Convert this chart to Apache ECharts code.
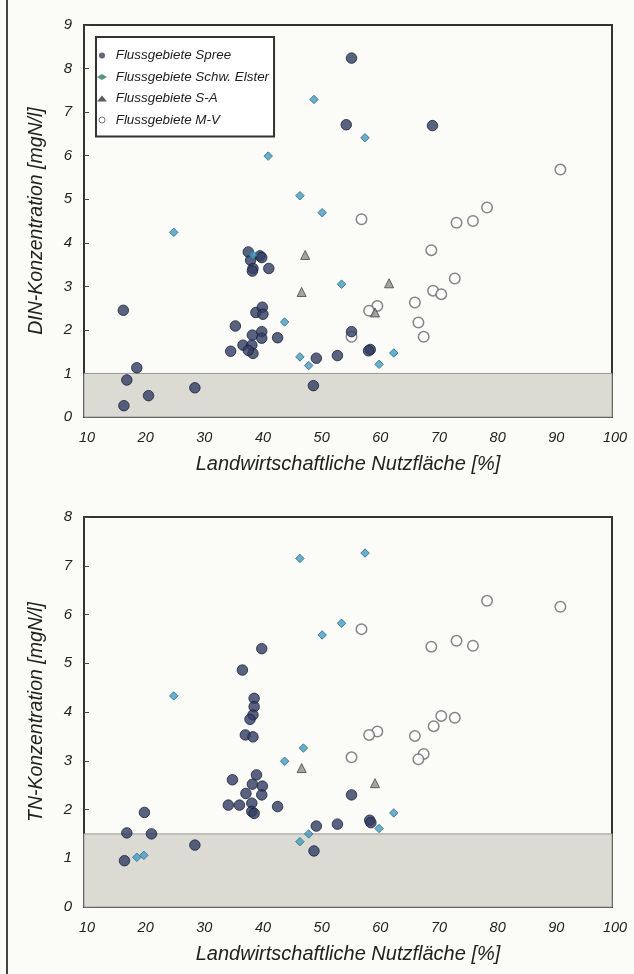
<!DOCTYPE html>
<html><head><meta charset="utf-8">
<script src="https://cdn.jsdelivr.net/npm/echarts@6/dist/echarts.min.js"></script>
<style>html,body{margin:0;padding:0;background:#fbfbf7}#c{width:634px;height:974px}</style>
</head><body><div id="c"></div>
<script>
// ---- data ----
const xLabel = 'Landwirtschaftliche Nutzfläche [%]';
const yLabelTop = 'DIN-Konzentration [mgN/l]';
const yLabelBottom = 'TN-Konzentration [mgN/l]';
const seriesNames = ['Flussgebiete Spree', 'Flussgebiete Schw. Elster', 'Flussgebiete S-A', 'Flussgebiete M-V'];
const dinThreshold = 1.0;
const tnThreshold = 1.5;

const dinSpree = [[16.7,2.45],[19.0,1.13],[17.3,0.85],[21.0,0.49],[16.8,0.26],[28.9,0.67],[35.8,2.09],[35.0,1.51],[37.1,1.65],[38.0,3.79],[38.4,3.60],[38.8,3.41],[38.7,3.35],[40.0,3.70],[40.3,3.66],[41.5,3.41],[39.3,2.40],[40.4,2.52],[40.5,2.36],[38.7,1.88],[40.3,1.96],[40.3,1.81],[38.6,1.65],[38.8,1.46],[38.0,1.53],[43.0,1.82],[49.6,1.35],[53.2,1.41],[49.1,0.72],[54.7,6.71],[55.6,8.24],[69.4,6.69],[55.6,1.96],[58.8,1.55],[58.5,1.52]];
const dinElster = [[25.3,4.24],[41.4,5.99],[49.2,7.29],[46.8,5.08],[50.6,4.69],[53.9,3.05],[44.2,2.18],[46.8,1.38],[48.3,1.18],[38.8,3.72],[57.9,6.41],[62.8,1.47],[60.3,1.21]];
const dinSA = [[47.7,3.72],[47.1,2.87],[62.0,3.07],[59.6,2.40]];
const dinMV = [[91.2,5.68],[78.7,4.81],[76.3,4.50],[73.5,4.46],[57.3,4.54],[69.2,3.83],[73.2,3.18],[69.5,2.90],[70.9,2.82],[66.4,2.63],[60.0,2.55],[58.6,2.44],[67.0,2.17],[67.9,1.84],[55.6,1.84]];

const tnSpree = [[16.9,0.95],[17.3,1.52],[20.3,1.94],[21.5,1.50],[28.9,1.27],[40.3,5.30],[37.0,4.86],[39.0,4.28],[39.0,4.11],[38.8,3.94],[38.3,3.85],[37.5,3.53],[38.8,3.49],[35.3,2.61],[39.4,2.71],[38.7,2.52],[40.4,2.48],[37.6,2.33],[40.3,2.30],[34.6,2.09],[36.5,2.09],[38.6,2.13],[38.6,1.96],[39.0,1.92],[43.0,2.06],[49.6,1.66],[53.2,1.70],[49.2,1.15],[55.6,2.30],[58.7,1.78],[58.9,1.73]];
const tnElster = [[25.3,4.33],[46.8,7.15],[50.6,5.58],[53.9,5.82],[47.4,3.26],[44.2,2.99],[46.8,1.34],[48.3,1.50],[19.0,1.02],[20.2,1.06],[57.9,7.26],[62.8,1.93],[60.3,1.61]];
const tnSA = [[47.1,2.85],[59.6,2.54]];
const tnMV = [[91.2,6.16],[78.7,6.28],[73.5,5.46],[76.3,5.36],[69.2,5.34],[57.3,5.70],[70.9,3.92],[73.2,3.88],[69.6,3.71],[66.4,3.51],[60.0,3.60],[58.6,3.53],[67.9,3.14],[67.0,3.03],[55.6,3.07]];

// ---- styles ----
const FONT = 'Liberation Sans, Arial, sans-serif';
const styles = [
  {symbol:'circle', symbolSize:10.5, itemStyle:{color:'#323c64', borderColor:'#1a2038', borderWidth:1}},
  {symbol:'diamond', symbolSize:8.5, itemStyle:{color:'#3d9dc6', borderColor:'#2a6a88', borderWidth:1}},
  {symbol:'triangle', symbolSize:9, itemStyle:{color:'#8e8e8e', borderColor:'#444', borderWidth:1}},
  {symbol:'circle', symbolSize:10.5, itemStyle:{color:'#ffffff', borderColor:'#666', borderWidth:1.5}}
];
function mk(nameIdx, data, gi) {
  return Object.assign({type:'scatter', name:seriesNames[nameIdx], data:data, xAxisIndex:gi, yAxisIndex:gi, z:3}, JSON.parse(JSON.stringify(styles[nameIdx])));
}
function shade(gi, thr) {
  return {type:'scatter', data:[], xAxisIndex:gi, yAxisIndex:gi, z:1, silent:true,
    markArea:{silent:true, itemStyle:{color:'#dbdbd4', borderColor:'#9a9a95', borderWidth:1},
      data:[[{xAxis:10, yAxis:0},{xAxis:100, yAxis:thr}]]}};
}
function xAx(gi) {
  return {gridIndex:gi, type:'value', min:10, max:100, interval:10,
    name:xLabel, nameLocation:'middle', nameGap:37,
    nameTextStyle:{fontFamily:FONT, fontSize:20, fontStyle:'italic', color:'#222'},
    axisLine:{show:true, lineStyle:{color:'#333', width:2}},
    axisTick:{show:true, inside:true, length:8, lineStyle:{color:'#444', width:1}},
    axisLabel:{fontFamily:FONT, fontSize:14.5, fontStyle:'italic', color:'#222', margin:13, padding:[0,0,0,6]},
    splitLine:{show:false}};
}
function yAx(gi, max, name) {
  return {gridIndex:gi, type:'value', min:0, max:max, interval:1,
    name:name, nameLocation:'middle', nameGap:37, nameRotate:90,
    nameTextStyle:{fontFamily:FONT, fontSize:19.5, fontStyle:'italic', color:'#222'},
    axisLine:{show:true, lineStyle:{color:'#333', width:2}},
    axisTick:{show:true, inside:true, length:5, lineStyle:{color:'#444', width:1}},
    axisLabel:{fontFamily:FONT, fontSize:15, fontStyle:'italic', color:'#222', margin:12},
    splitLine:{show:false}};
}

const chart = echarts.init(document.getElementById('c'), null, {renderer:'canvas'});
chart.setOption({
  backgroundColor:'#fbfbf7',
  animation:false,
  graphic:[{type:'line', shape:{x1:7, y1:0, x2:7, y2:974}, style:{stroke:'#444', lineWidth:2}}],
  grid:[
    {left:84, top:25, width:528, height:392, show:true, borderColor:'#333', borderWidth:2, backgroundColor:'transparent'},
    {left:84, top:517, width:528, height:390, show:true, borderColor:'#333', borderWidth:2, backgroundColor:'transparent'}
  ],
  xAxis:[xAx(0), xAx(1)],
  yAxis:[yAx(0, 9, yLabelTop), yAx(1, 8, yLabelBottom)],
  legend:{
    left:96, top:37, orient:'vertical', itemGap:6.5, itemWidth:10, itemHeight:6,
    padding:[11,5,9,1], borderColor:'#333', borderWidth:2, backgroundColor:'#fff',
    formatter: n => ' ' + n,
    textStyle:{fontFamily:FONT, fontSize:13.4, lineHeight:15, fontStyle:'italic', color:'#222'},
    data:[
      {name:seriesNames[0], icon:'circle', itemStyle:{color:'#3a3f52', borderWidth:0}},
      {name:seriesNames[1], icon:'diamond', itemStyle:{color:'#2e7a5e', borderWidth:0}},
      {name:seriesNames[2], icon:'triangle', itemStyle:{color:'#333', borderWidth:0}},
      {name:seriesNames[3], icon:'circle', itemStyle:{color:'#fff', borderColor:'#555', borderWidth:1}}
    ]
  },
  series:[
    shade(0, dinThreshold), shade(1, tnThreshold),
    mk(3, dinMV, 0), mk(0, dinSpree, 0), mk(1, dinElster, 0), mk(2, dinSA, 0),
    mk(3, tnMV, 1), mk(0, tnSpree, 1), mk(1, tnElster, 1), mk(2, tnSA, 1)
  ]
});
</script></body></html>
